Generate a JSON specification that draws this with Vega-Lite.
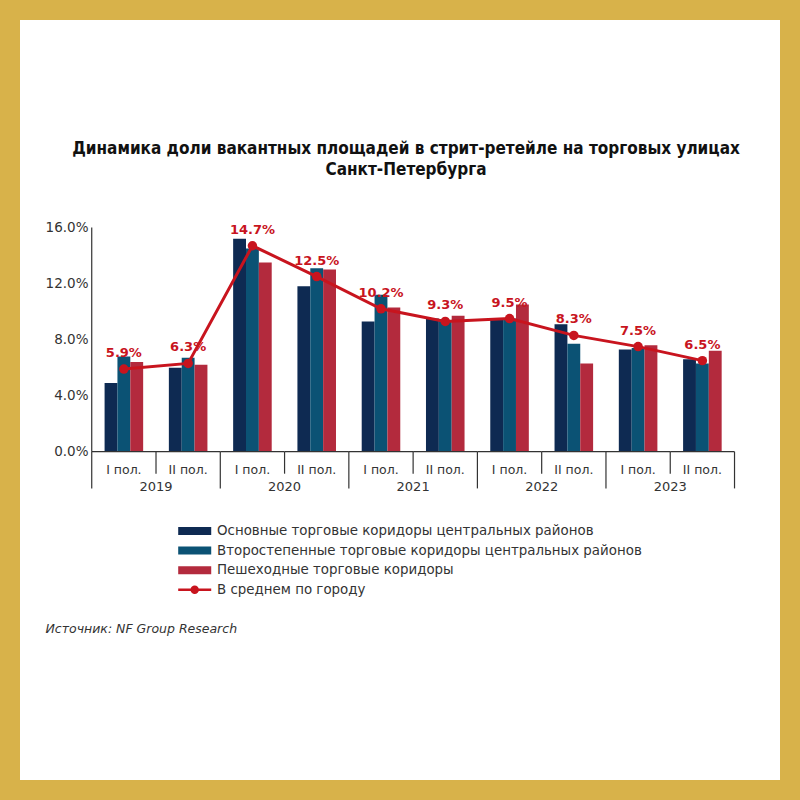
{
  "$schema": "https://vega.github.io/schema/vega-lite/v6.json",
  "width": 760,
  "height": 760,
  "padding": 20,
  "autosize": {"type": "none"},
  "background": "#d8b24a",
  "config": {"view": {"fill": "white", "stroke": null}, "font": "DejaVu Sans"},
  "title": {
    "text": ["Динамика доли вакантных площадей в стрит-ретейле на торговых улицах", "Санкт-Петербурга"],
    "font": "DejaVu Sans Condensed, Liberation Sans Narrow, DejaVu Sans",
    "fontSize": 17,
    "fontWeight": "bold",
    "color": "#111111",
    "anchor": "middle",
    "dy": 163,
    "dx": 6,
    "lineHeight": 21
  },
  "datasets": {
    "bars": [
      {"period": "2019-1", "series": "Основные торговые коридоры центральных районов", "value": 0.049},
      {"period": "2019-1", "series": "Второстепенные торговые коридоры центральных районов", "value": 0.068},
      {"period": "2019-1", "series": "Пешеходные торговые коридоры", "value": 0.064},
      {"period": "2019-2", "series": "Основные торговые коридоры центральных районов", "value": 0.060},
      {"period": "2019-2", "series": "Второстепенные торговые коридоры центральных районов", "value": 0.067},
      {"period": "2019-2", "series": "Пешеходные торговые коридоры", "value": 0.062},
      {"period": "2020-1", "series": "Основные торговые коридоры центральных районов", "value": 0.152},
      {"period": "2020-1", "series": "Второстепенные торговые коридоры центральных районов", "value": 0.145},
      {"period": "2020-1", "series": "Пешеходные торговые коридоры", "value": 0.135},
      {"period": "2020-2", "series": "Основные торговые коридоры центральных районов", "value": 0.118},
      {"period": "2020-2", "series": "Второстепенные торговые коридоры центральных районов", "value": 0.131},
      {"period": "2020-2", "series": "Пешеходные торговые коридоры", "value": 0.130},
      {"period": "2021-1", "series": "Основные торговые коридоры центральных районов", "value": 0.093},
      {"period": "2021-1", "series": "Второстепенные торговые коридоры центральных районов", "value": 0.112},
      {"period": "2021-1", "series": "Пешеходные торговые коридоры", "value": 0.103},
      {"period": "2021-2", "series": "Основные торговые коридоры центральных районов", "value": 0.095},
      {"period": "2021-2", "series": "Второстепенные торговые коридоры центральных районов", "value": 0.094},
      {"period": "2021-2", "series": "Пешеходные торговые коридоры", "value": 0.097},
      {"period": "2022-1", "series": "Основные торговые коридоры центральных районов", "value": 0.095},
      {"period": "2022-1", "series": "Второстепенные торговые коридоры центральных районов", "value": 0.095},
      {"period": "2022-1", "series": "Пешеходные торговые коридоры", "value": 0.105},
      {"period": "2022-2", "series": "Основные торговые коридоры центральных районов", "value": 0.091},
      {"period": "2022-2", "series": "Второстепенные торговые коридоры центральных районов", "value": 0.077},
      {"period": "2022-2", "series": "Пешеходные торговые коридоры", "value": 0.063},
      {"period": "2023-1", "series": "Основные торговые коридоры центральных районов", "value": 0.073},
      {"period": "2023-1", "series": "Второстепенные торговые коридоры центральных районов", "value": 0.074},
      {"period": "2023-1", "series": "Пешеходные торговые коридоры", "value": 0.076},
      {"period": "2023-2", "series": "Основные торговые коридоры центральных районов", "value": 0.066},
      {"period": "2023-2", "series": "Второстепенные торговые коридоры центральных районов", "value": 0.063},
      {"period": "2023-2", "series": "Пешеходные торговые коридоры", "value": 0.072}
    ],
    "avg": [
      {"period": "2019-1", "year": "2019", "half": "I", "hlabel": "I пол.", "avg": 0.059},
      {"period": "2019-2", "year": "2019", "half": "II", "hlabel": "II пол.", "avg": 0.063},
      {"period": "2020-1", "year": "2020", "half": "I", "hlabel": "I пол.", "avg": 0.147},
      {"period": "2020-2", "year": "2020", "half": "II", "hlabel": "II пол.", "avg": 0.125},
      {"period": "2021-1", "year": "2021", "half": "I", "hlabel": "I пол.", "avg": 0.102},
      {"period": "2021-2", "year": "2021", "half": "II", "hlabel": "II пол.", "avg": 0.093},
      {"period": "2022-1", "year": "2022", "half": "I", "hlabel": "I пол.", "avg": 0.095},
      {"period": "2022-2", "year": "2022", "half": "II", "hlabel": "II пол.", "avg": 0.083},
      {"period": "2023-1", "year": "2023", "half": "I", "hlabel": "I пол.", "avg": 0.075},
      {"period": "2023-2", "year": "2023", "half": "II", "hlabel": "II пол.", "avg": 0.065}
    ]
  },
  "layer": [
    {
      "data": {"name": "bars"},
      "mark": {"type": "bar"},
      "encoding": {
        "x": {
          "field": "period",
          "type": "nominal",
          "scale": {
            "domain": ["2019-1", "2019-2", "2020-1", "2020-2", "2021-1", "2021-2", "2022-1", "2022-2", "2023-1", "2023-2"],
            "paddingInner": 0,
            "paddingOuter": 0.9117,
            "align": 0.612
          },
          "axis": {
            "orient": "bottom",
            "domain": false,
            "ticks": false,
            "labels": false,
            "title": "Источник: NF Group Research",
            "titleFontStyle": "italic",
            "titleFontWeight": "normal",
            "titleFontSize": 12.5,
            "titleColor": "#333333",
            "titleAnchor": "start",
            "titleAlign": "left",
            "titleBaseline": "middle",
            "titleX": 25,
            "titleY": -152
          }
        },
        "xOffset": {
          "field": "series",
          "type": "nominal",
          "scale": {
            "domain": ["Основные торговые коридоры центральных районов", "Второстепенные торговые коридоры центральных районов", "Пешеходные торговые коридоры"],
            "paddingInner": 0,
            "paddingOuter": 1.13
          }
        },
        "y": {
          "field": "value",
          "type": "quantitative",
          "scale": {"domain": [-0.2343, 0.3081], "nice": false},
          "axis": {
            "values": [0, 0.04, 0.08, 0.12, 0.16],
            "format": ".1%",
            "domain": false,
            "grid": false,
            "ticks": false,
            "tickSize": 0,
            "labelPadding": -68,
            "labelFontSize": 13.5,
            "labelColor": "#333333",
            "title": null
          }
        },
        "color": {
          "field": "series",
          "type": "nominal",
          "scale": {
            "domain": ["Основные торговые коридоры центральных районов", "Второстепенные торговые коридоры центральных районов", "Пешеходные торговые коридоры", "В среднем по городу"],
            "range": ["#0e2a52", "#0b5274", "#b32a3d", "#c8141e"]
          },
          "legend": {
            "orient": "none",
            "legendX": 158,
            "legendY": 501,
            "direction": "vertical",
            "title": null,
            "labelFontSize": 13.4,
            "labelColor": "#333333",
            "labelLimit": 0,
            "symbolSize": 384,
            "rowPadding": 2.6,
            "labelOffset": 19,
            "encode": {
              "symbols": {
                "update": {
                  "shape": {"signal": "datum.value == 'В среднем по городу' ? 'M-1,-0.13H2.37V0.13H-1Z M1.115,0A0.43,0.43 0 1 1 0.255,0A0.43,0.43 0 1 1 1.115,0Z' : 'M-1,-0.41H2.37V0.41H-1Z'"},
                  "fill": {"scale": "color", "field": "value"},
                  "stroke": {"value": "transparent"},
                  "strokeWidth": {"value": 0},
                  "opacity": {"value": 1},
                  "fillOpacity": {"value": 1}
                }
              }
            }
          }
        }
      }
    },
    {
      "data": {"name": "avg"},
      "mark": {"type": "bar", "fill": "transparent", "stroke": "#333333", "strokeWidth": 1.2},
      "encoding": {
        "x": {"field": "period", "type": "nominal"},
        "y": {"datum": 0},
        "y2": {"datum": 0}
      }
    },
    {
      "data": {"name": "avg"},
      "transform": [{"filter": "datum.period == '2019-1'"}],
      "mark": {"type": "rule", "color": "#333333", "strokeWidth": 1.2},
      "encoding": {
        "x": {"field": "period", "type": "nominal", "bandPosition": 0},
        "y": {"datum": 0.16},
        "y2": {"datum": 0}
      }
    },
    {
      "data": {"name": "avg"},
      "transform": [{"filter": "datum.half == 'I'"}],
      "mark": {"type": "rule", "color": "#333333", "strokeWidth": 1.2},
      "encoding": {
        "x": {"field": "period", "type": "nominal", "bandPosition": 0},
        "y": {"datum": 0},
        "y2": {"datum": -0.0262}
      }
    },
    {
      "data": {"name": "avg"},
      "transform": [{"filter": "datum.half == 'II'"}],
      "mark": {"type": "rule", "color": "#333333", "strokeWidth": 1.2},
      "encoding": {
        "x": {"field": "period", "type": "nominal", "bandPosition": 0},
        "y": {"datum": 0},
        "y2": {"datum": -0.0157}
      }
    },
    {
      "data": {"name": "avg"},
      "transform": [{"filter": "datum.period == '2023-2'"}],
      "mark": {"type": "rule", "color": "#333333", "strokeWidth": 1.2},
      "encoding": {
        "x": {"field": "period", "type": "nominal", "bandPosition": 1},
        "y": {"datum": 0},
        "y2": {"datum": -0.0262}
      }
    },
    {
      "data": {"name": "avg"},
      "mark": {"type": "line", "strokeWidth": 3},
      "encoding": {
        "x": {"field": "period", "type": "nominal"},
        "y": {"field": "avg", "type": "quantitative"},
        "color": {"datum": "В среднем по городу"}
      }
    },
    {
      "data": {"name": "avg"},
      "mark": {"type": "point", "filled": true, "size": 90, "opacity": 1},
      "encoding": {
        "x": {"field": "period", "type": "nominal"},
        "y": {"field": "avg", "type": "quantitative"},
        "color": {"datum": "В среднем по городу"}
      }
    },
    {
      "data": {"name": "avg"},
      "mark": {"type": "text", "fontSize": 13, "fontWeight": "bold", "color": "#c8141e", "dy": -16},
      "encoding": {
        "x": {"field": "period", "type": "nominal"},
        "y": {"field": "avg", "type": "quantitative"},
        "text": {"field": "avg", "format": ".1%"}
      }
    },
    {
      "data": {"name": "avg"},
      "mark": {"type": "text", "fontSize": 12.5, "color": "#333333", "baseline": "middle"},
      "encoding": {
        "x": {"field": "period", "type": "nominal"},
        "y": {"datum": -0.0131},
        "text": {"field": "hlabel"}
      }
    },
    {
      "data": {"name": "avg"},
      "transform": [{"filter": "datum.half == 'II'"}],
      "mark": {"type": "text", "fontSize": 13, "color": "#333333", "baseline": "middle"},
      "encoding": {
        "x": {"field": "period", "type": "nominal", "bandPosition": 0},
        "y": {"datum": -0.0252},
        "text": {"field": "year"}
      }
    }
  ]
}
